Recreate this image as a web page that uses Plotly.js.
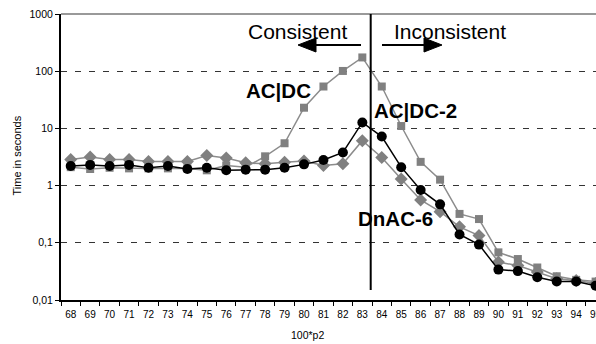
<!DOCTYPE html>
<html>
<head>
<meta charset="utf-8">
<script src="https://cdn.plot.ly/plotly-3.0.1.min.js"></script>
<style>html,body{margin:0;padding:0;background:#fff;overflow:hidden;}</style>
</head>
<body>
<div id="chart" style="width:596px;height:344px;"></div>
<script>
// Data
const categories = ["68","69","70","71","72","73","74","75","76","77","78","79","80","81","82","83","84","85","86","87","88","89","90","91","92","93","94","95"];
const acdc   = [2.1, 1.95, 2.05, 2.0, 2.0, 2.0, 2.0, 1.85, 2.25, 2.1, 3.25, 5.5, 23, 54, 101, 174, 54, 11, 2.6, 1.27, 0.32, 0.26, 0.068, 0.052, 0.037, 0.026, 0.0225, 0.021];
const acdc2  = [2.2, 2.3, 2.2, 2.3, 2.05, 2.2, 1.95, 2.05, 1.85, 1.9, 1.9, 2.05, 2.35, 2.8, 3.8, 12.7, 7.2, 2.1, 0.84, 0.47, 0.14, 0.093, 0.034, 0.032, 0.025, 0.021, 0.021, 0.0178];
const dnac6  = [2.85, 3.15, 2.85, 2.85, 2.65, 2.65, 2.65, 3.35, 3.05, 2.5, 2.4, 2.55, 2.7, 2.25, 2.4, 6.1, 3.1, 1.3, 0.56, 0.35, 0.19, 0.134, 0.046, 0.04, 0.031, 0.0236, 0.022, 0.0195];
const yTickVals = [0.01, 0.1, 1, 10, 100, 1000];
const yTickText = ["0,01", "0,1", "1", "10", "100", "1000"];

const FONT = "Liberation Sans, Arial, sans-serif";
const L = 61, T = 14, B = 44, W = 596, H = 344;
const PW = W - L, PH = H - T - B;
const px = v => (v - L) / PW;   // pixel -> paper x
const py = v => (H - B - v) / PH; // pixel -> paper y

const traces = [
  {x: categories, y: acdc, name: "AC|DC", mode: "lines+markers", cliponaxis: false,
   line: {color: "#8c8c8c", width: 1.5},
   marker: {symbol: "square", size: 8, color: "#808080", line: {width: 0}}},
  {x: categories, y: dnac6, name: "DnAC-6", mode: "lines+markers", cliponaxis: false,
   line: {color: "#8c8c8c", width: 1.5},
   marker: {symbol: "diamond", size: 10, color: "#808080", line: {width: 0}}},
  {x: categories, y: acdc2, name: "AC|DC-2", mode: "lines+markers", cliponaxis: false,
   line: {color: "#000000", width: 1.5},
   marker: {symbol: "circle", size: 10, color: "#000000", line: {width: 0}}}
];

function tri(tipX, baseX, yc, h) {
  return `M${px(tipX)},${py(yc)} L${px(baseX)},${py(yc - h)} L${px(baseX)},${py(yc + h)} Z`;
}

const layout = {
  width: W, height: H,
  margin: {l: L, r: 0, t: T, b: B, pad: 0},
  paper_bgcolor: "#ffffff", plot_bgcolor: "#ffffff",
  showlegend: false,
  font: {family: FONT, size: 10, color: "#000"},
  xaxis: {
    type: "category", range: [-0.5, 27.02], tickangle: 0, ticklabelstandoff: 4,
    tickson: "boundaries", ticks: "outside", ticklen: 4, tickcolor: "#000", tickwidth: 1,
    showgrid: false, showline: true, linecolor: "#000", linewidth: 2,
    tickfont: {family: FONT, size: 10, color: "#000"}, zeroline: false, fixedrange: true
  },
  yaxis: {
    type: "log", range: [-2, 3],
    tickvals: yTickVals, ticktext: yTickText,
    ticks: "outside", ticklen: 4, tickcolor: "#000", tickwidth: 1,
    showgrid: true, gridcolor: "#333333", gridwidth: 1, griddash: "6px,8px",
    showline: true, linecolor: "#000", linewidth: 2,
    tickfont: {family: FONT, size: 10.5, color: "#000"}, zeroline: false, fixedrange: true
  },
  shapes: [
    {type: "line", xref: "paper", yref: "paper", x0: 0, x1: 1, y0: 1, y1: 1,
     line: {color: "#999999", width: 2}},
    {type: "line", xref: "paper", yref: "paper", x0: px(370.7), x1: px(370.7), y0: 1, y1: py(290),
     line: {color: "#000", width: 2}},
    {type: "line", xref: "paper", yref: "paper", x0: px(361), x1: px(312), y0: py(45), y1: py(45),
     line: {color: "#000", width: 2}},
    {type: "path", xref: "paper", yref: "paper", path: tri(298, 316, 45, 7),
     fillcolor: "#000", line: {color: "#000", width: 1}},
    {type: "line", xref: "paper", yref: "paper", x0: px(382), x1: px(428), y0: py(45), y1: py(45),
     line: {color: "#000", width: 2}},
    {type: "path", xref: "paper", yref: "paper", path: tri(442, 424, 45, 7),
     fillcolor: "#000", line: {color: "#000", width: 1}}
  ],
  annotations: [
    {text: "Consistent", xref: "paper", yref: "paper", x: px(246), y: py(31.5), xanchor: "left", yanchor: "middle",
     showarrow: false, font: {family: FONT, size: 21, color: "#000"}},
    {text: "Inconsistent", xref: "paper", yref: "paper", x: px(392), y: py(31.5), xanchor: "left", yanchor: "middle",
     showarrow: false, font: {family: FONT, size: 21, color: "#000"}},
    {text: "<b>AC|DC</b>", xref: "paper", yref: "paper", x: px(244), y: py(90), xanchor: "left", yanchor: "middle",
     showarrow: false, font: {family: FONT, size: 20.5, color: "#000"}},
    {text: "<b>AC|DC-2</b>", xref: "paper", yref: "paper", x: px(371.5), y: py(110.5), xanchor: "left", yanchor: "middle",
     showarrow: false, font: {family: FONT, size: 20.5, color: "#000"}},
    {text: "<b>DnAC-6</b>", xref: "paper", yref: "paper", x: px(355.5), y: py(218), xanchor: "left", yanchor: "middle",
     showarrow: false, font: {family: FONT, size: 20.5, color: "#000"}},
    {text: "Time in seconds", xref: "paper", yref: "paper", x: px(16.5), y: py(156), xanchor: "center", yanchor: "middle",
     textangle: -90, showarrow: false, font: {family: FONT, size: 11, color: "#000"}},
    {text: "100*p2", xref: "paper", yref: "paper", x: px(307.5), y: py(335), xanchor: "center", yanchor: "middle",
     showarrow: false, font: {family: FONT, size: 10.5, color: "#000"}}
  ]
};

Plotly.newPlot("chart", traces, layout, {displayModeBar: false, staticPlot: true});
</script>
</body>
</html>
